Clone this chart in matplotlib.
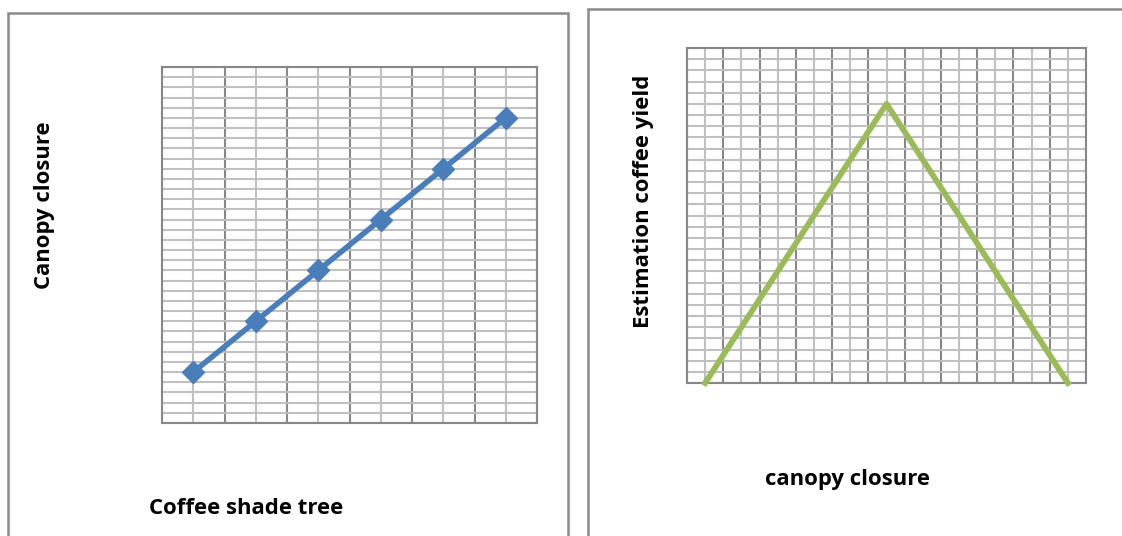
import matplotlib.pyplot as plt
import matplotlib.patches as patches
import numpy as np

# left chart: canopy closure for each coffee shade tree
shade_trees = [1, 2, 3, 4, 5, 6]
canopy = [1, 2, 3, 4, 5, 6]

# right chart: estimated yield against canopy closure class
closure_classes = [1, 2, 3, 4, 5, 6, 7, 8, 9, 10, 11]
yield_est = [0, 1, 2, 3, 4, 5, 4, 3, 2, 1, 0]

W, H = 1122, 536
DARK = '#878787'
LIGHT = '#c0c0c0'


def px_axes(fig, x0, y0, x1, y1):
    # pixel box (top-left origin) -> figure axes
    return fig.add_axes([x0 / W, 1 - y1 / H, (x1 - x0) / W, (y1 - y0) / H])


def excel_grid(ax, ncat, ymax):
    ax.set_xlim(0.5, ncat + 0.5)
    ax.set_ylim(0, ymax)
    ax.set_xticks(np.arange(0.5, ncat + 1, 1))
    ax.set_xticks(np.arange(1, ncat + 1, 1), minor=True)
    ax.set_yticks([])
    ax.set_yticks(np.arange(0, ymax + 0.01, 0.2), minor=True)
    ax.grid(which='major', axis='x', color=DARK, lw=1.5)
    ax.grid(which='minor', axis='both', color=LIGHT, lw=1.5)
    ax.tick_params(which='both', length=0, labelbottom=False, labelleft=False)
    for s in ax.spines.values():
        s.set_color(DARK)
        s.set_linewidth(1.5)
    ax.set_axisbelow(True)


fig = plt.figure(figsize=(W / 100, H / 100), dpi=100)

# chart frames
for x0, y0, x1, y1 in [(8, 13, 568, 560), (588, 9, 1140, 560)]:
    fig.add_artist(patches.Rectangle((x0 / W, 1 - y1 / H), (x1 - x0) / W, (y1 - y0) / H,
                                     transform=fig.transFigure, fill=False,
                                     edgecolor='#8a8a8a', lw=1.8))

ax1 = px_axes(fig, 162, 67, 537, 423)
excel_grid(ax1, len(shade_trees), 7)
ax1.plot(shade_trees, canopy, color='#4a7ebb', lw=4.0, marker='D', markersize=11,
         clip_on=False, zorder=3)

ax2 = px_axes(fig, 687, 48, 1086, 383)
excel_grid(ax2, len(closure_classes), 6)
ax2.plot(closure_classes, yield_est, color='#9bbb59', lw=4.2, clip_on=False, zorder=3)

font = dict(family='Open Sans', fontweight='bold', fontsize=15.9)
fig.text(45 / W, 1 - 205 / H, 'Canopy closure', rotation=90, ha='center', va='center', **font)
fig.text(246 / W, 1 - 508 / H, 'Coffee shade tree', ha='center', va='center', **font)
fig.text(643 / W, 1 - 201 / H, 'Estimation coffee yield', rotation=90, ha='center', va='center', **font)
fig.text(848 / W, 1 - 480 / H, 'canopy closure', ha='center', va='center', **font)

fig.savefig('out.png', dpi=100)
